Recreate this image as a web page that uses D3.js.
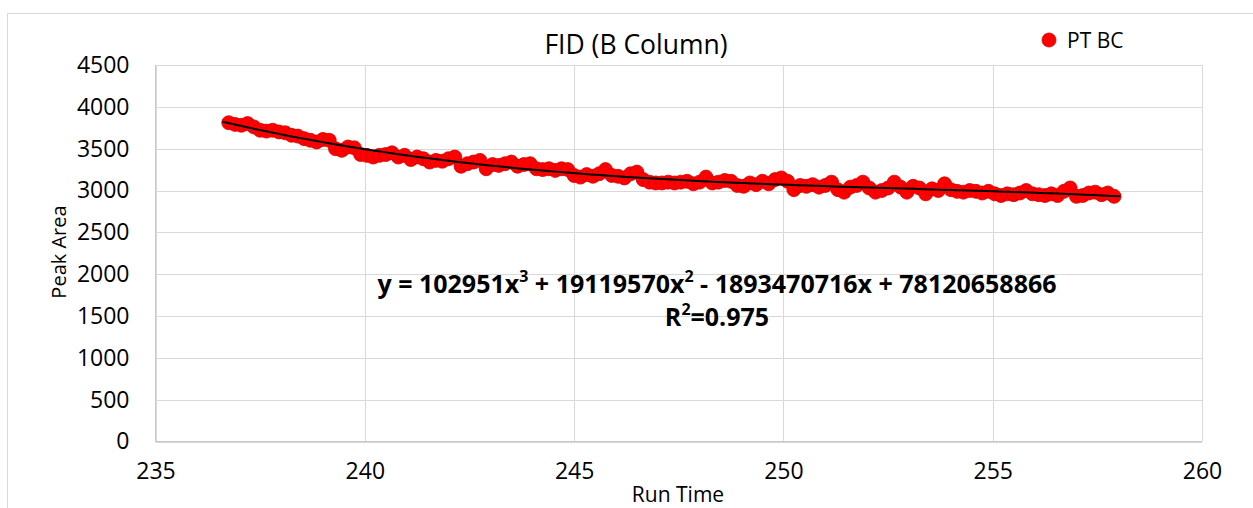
<!DOCTYPE html>
<html>
<head>
<meta charset="utf-8">
<script src="https://cdn.jsdelivr.net/npm/d3@7"></script>
<style>
  body { margin: 0; background: #fff; }
  text { font-family: "Open Sans", sans-serif; fill: #000; }
</style>
</head>
<body>
<svg class="chart" width="1253" height="508"></svg>
<script>
// Run times and peak areas
const runTime = [
  236.75, 236.9, 237.05, 237.2, 237.35, 237.5, 237.65, 237.8, 237.95, 238.1,
  238.25, 238.4, 238.55, 238.7, 238.85, 239.0, 239.15, 239.3, 239.45, 239.6,
  239.75, 239.9, 240.05, 240.2, 240.35, 240.5, 240.65, 240.8, 240.95, 241.1,
  241.25, 241.4, 241.55, 241.7, 241.85, 242.0, 242.15, 242.3, 242.45, 242.6,
  242.75, 242.9, 243.05, 243.2, 243.35, 243.5, 243.65, 243.8, 243.95, 244.1,
  244.25, 244.4, 244.55, 244.7, 244.85, 245.0, 245.15, 245.3, 245.45, 245.6,
  245.75, 245.9, 246.05, 246.2, 246.35, 246.5, 246.65, 246.8, 246.95, 247.1,
  247.25, 247.4, 247.55, 247.7, 247.85, 248.0, 248.15, 248.3, 248.45, 248.6,
  248.75, 248.9, 249.05, 249.2, 249.35, 249.5, 249.65, 249.8, 249.95, 250.1,
  250.25, 250.4, 250.55, 250.7, 250.85, 251.0, 251.15, 251.3, 251.45, 251.6,
  251.75, 251.9, 252.05, 252.2, 252.35, 252.5, 252.65, 252.8, 252.95, 253.1,
  253.25, 253.4, 253.55, 253.7, 253.85, 254.0, 254.15, 254.3, 254.45, 254.6,
  254.75, 254.9, 255.05, 255.2, 255.35, 255.5, 255.65, 255.8, 255.95, 256.1,
  256.25, 256.4, 256.55, 256.7, 256.85, 257.0, 257.15, 257.3, 257.45, 257.6,
  257.75, 257.9
];
const peakArea = [
  3810, 3790, 3780, 3800, 3760, 3720, 3710, 3720, 3700, 3690,
  3660, 3650, 3620, 3600, 3580, 3610, 3600, 3500, 3480, 3520,
  3510, 3430, 3420, 3400, 3420, 3430, 3450, 3400, 3420, 3370,
  3400, 3380, 3340, 3360, 3350, 3380, 3400, 3290, 3320, 3340,
  3360, 3260, 3310, 3300, 3320, 3340, 3290, 3310, 3320, 3260,
  3250, 3260, 3240, 3260, 3250, 3180, 3160, 3190, 3170, 3200,
  3250, 3180, 3170, 3150, 3200, 3220, 3130, 3100, 3090, 3090,
  3100, 3090, 3100, 3110, 3080, 3100, 3160, 3090, 3100, 3120,
  3110, 3060, 3050, 3090, 3070, 3110, 3080, 3130, 3150, 3110,
  3010, 3060, 3050, 3070, 3040, 3060, 3100, 3010, 2980, 3040,
  3060, 3100, 3030, 2980, 3000, 3030, 3100, 3040, 2980, 3050,
  3030, 2960, 3020, 3000, 3080, 3010, 2990, 2980, 3000, 2990,
  2970, 2990, 2960, 2940, 2960, 2950, 2970, 3000, 2960, 2950,
  2940, 2960, 2940, 2990, 3030, 2930, 2940, 2970, 2980, 2950,
  2970, 2930
];
const xTicks = [235, 240, 245, 250, 255, 260];
const yTicks = [0, 500, 1000, 1500, 2000, 2500, 3000, 3500, 4000, 4500];
const seriesName = "PT BC";
const chartTitle = "FID (B Column)";

const svg = d3.select(".chart");

// plot area
const plot = { left: 155.5, right: 1202, top: 65, bottom: 441.5 };

const x = d3.scaleLinear().domain([235, 260]).range([plot.left, plot.right]);
const y = d3.scaleLinear().domain([0, 4500]).range([plot.bottom, plot.top]);

// outer chart border (runs off the picture on right and bottom)
svg.append("rect")
  .attr("x", 7.5).attr("y", 13.5)
  .attr("width", 1400).attr("height", 600)
  .attr("fill", "none")
  .attr("stroke", "#d9d9d9");

// gridlines
svg.append("g")
  .selectAll("line")
  .data(yTicks)
  .join("line")
  .attr("x1", plot.left).attr("x2", plot.right)
  .attr("y1", (d) => Math.round(y(d)) + 0.5).attr("y2", (d) => Math.round(y(d)) + 0.5)
  .attr("stroke", "#d9d9d9");

svg.append("g")
  .selectAll("line")
  .data(xTicks)
  .join("line")
  .attr("x1", (d) => Math.round(x(d)) + 0.5).attr("x2", (d) => Math.round(x(d)) + 0.5)
  .attr("y1", plot.top).attr("y2", plot.bottom)
  .attr("stroke", "#d9d9d9");

// axes lines
svg.append("line")
  .attr("x1", plot.left).attr("x2", plot.left)
  .attr("y1", plot.top).attr("y2", plot.bottom)
  .attr("stroke", "#c8c8c8");
svg.append("line")
  .attr("x1", plot.left).attr("x2", plot.right)
  .attr("y1", plot.bottom).attr("y2", plot.bottom)
  .attr("stroke", "#c8c8c8");

// tick labels
const xAxis = d3.axisBottom(x).tickValues(xTicks).tickSize(0).tickPadding(21);
svg.append("g")
  .attr("transform", `translate(0, ${plot.bottom})`)
  .call(xAxis)
  .call((g) => g.select(".domain").remove())
  .selectAll("text")
  .style("font-family", "Open Sans, sans-serif")
  .style("font-size", "23px")
  .attr("fill", "#000");

const yAxis = d3.axisLeft(y).tickValues(yTicks).tickFormat(d3.format("d")).tickSize(0).tickPadding(26);
svg.append("g")
  .attr("transform", `translate(${plot.left}, 0)`)
  .call(yAxis)
  .call((g) => g.select(".domain").remove())
  .selectAll("text")
  .style("font-family", "Open Sans, sans-serif")
  .style("font-size", "23px")
  .attr("fill", "#000");

// data points
const points = runTime.map((t, i) => ({ t, v: peakArea[i] }));
svg.append("g")
  .selectAll("circle")
  .data(points)
  .join("circle")
  .attr("cx", (d) => x(d.t))
  .attr("cy", (d) => y(d.v))
  .attr("r", 7)
  .attr("fill", "#ff0000")
  .attr("stroke", "#d00000")
  .attr("stroke-width", 0.8);

// cubic least squares trend line
function fitCubic(xs, ys) {
  const x0 = d3.mean(xs);
  const n = 4;
  const A = Array.from({ length: n }, () => new Array(n + 1).fill(0));
  xs.forEach((xv, k) => {
    const u = xv - x0;
    const pw = [1, u, u * u, u * u * u];
    for (let i = 0; i < n; i++) {
      for (let j = 0; j < n; j++) A[i][j] += pw[i] * pw[j];
      A[i][n] += pw[i] * ys[k];
    }
  });
  for (let c = 0; c < n; c++) {
    let p = c;
    for (let r = c + 1; r < n; r++) if (Math.abs(A[r][c]) > Math.abs(A[p][c])) p = r;
    [A[c], A[p]] = [A[p], A[c]];
    for (let r = 0; r < n; r++) {
      if (r === c) continue;
      const f = A[r][c] / A[c][c];
      for (let k = c; k <= n; k++) A[r][k] -= f * A[c][k];
    }
  }
  const coef = A.map((row, i) => row[n] / row[i]);
  return (t) => {
    const u = t - x0;
    return coef[0] + coef[1] * u + coef[2] * u * u + coef[3] * u * u * u;
  };
}
const trend = fitCubic(runTime, peakArea);
const tMin = d3.min(runTime) - 0.15;
const tMax = d3.max(runTime) + 0.15;
const trendPts = d3.range(0, 101).map((i) => tMin + (tMax - tMin) * i / 100);
svg.append("path")
  .datum(trendPts)
  .attr("fill", "none")
  .attr("stroke", "#000")
  .attr("stroke-width", 2)
  .attr("d", d3.line().x((t) => x(t)).y((t) => y(trend(t))));

// title
svg.append("text")
  .attr("x", 636).attr("y", 54)
  .attr("text-anchor", "middle")
  .style("font-size", "26.5px")
  .text(chartTitle);

// legend
svg.append("circle")
  .attr("cx", 1049).attr("cy", 40).attr("r", 7)
  .attr("fill", "#ff0000").attr("stroke", "#d00000").attr("stroke-width", 0.8);
svg.append("text")
  .attr("x", 1067).attr("y", 47.5)
  .style("font-size", "21px")
  .text(seriesName);

// axis titles
svg.append("text")
  .attr("transform", "translate(66, 252) rotate(-90)")
  .attr("text-anchor", "middle")
  .style("font-size", "20px")
  .text("Peak Area");
svg.append("text")
  .attr("x", 678).attr("y", 502)
  .attr("text-anchor", "middle")
  .style("font-size", "21px")
  .text("Run Time");

// equation + R²
const eq = svg.append("text")
  .attr("x", 717).attr("y", 293)
  .attr("text-anchor", "middle")
  .style("font-size", "25px")
  .style("font-weight", "bold");
eq.append("tspan").text("y = 102951x");
eq.append("tspan").attr("baseline-shift", "super").style("font-size", "16px").text("3");
eq.append("tspan").text(" + 19119570x");
eq.append("tspan").attr("baseline-shift", "super").style("font-size", "16px").text("2");
eq.append("tspan").text(" - 1893470716x + 78120658866");

const r2 = svg.append("text")
  .attr("x", 717).attr("y", 326)
  .attr("text-anchor", "middle")
  .style("font-size", "25px")
  .style("font-weight", "bold");
r2.append("tspan").text("R");
r2.append("tspan").attr("baseline-shift", "super").style("font-size", "16px").text("2");
r2.append("tspan").text("=0.975");
</script>
</body>
</html>
